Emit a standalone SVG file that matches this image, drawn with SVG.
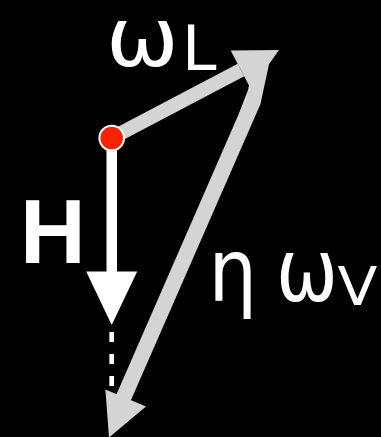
<svg xmlns="http://www.w3.org/2000/svg" width="381" height="437" viewBox="0 0 381 437">
  <style>
    .lbl { fill: #ffffff; font-family: "DejaVu Sans", "Open Sans", sans-serif; }
    .gray { fill: #d4d4d4; }
  </style>
  <rect x="0" y="0" width="381" height="437" fill="#000000"/>
  <g id="connectors">
    <g id="omegaL-arrow">
      <line x1="111.7" y1="138" x2="241" y2="70" stroke="#d4d4d4" stroke-width="14"/>
      <polygon class="gray" points="279,50 230.7,50.4 251.1,89.4"/>
    </g>
    <g id="etaOmegaV-arrow">
      <polygon class="gray" points="252,62 269,62 268.5,66.7 264.5,85 260.5,104 131,400 114,400 238.3,115 248,90 250,80"/>
      <polygon class="gray" points="109,437.5 105.4,389.4 146,406.4"/>
    </g>
    <g id="H-arrow">
      <rect x="106.5" y="138" width="10.5" height="136" fill="#ffffff"/>
      <polygon points="86.2,271.5 137.2,271.5 111.7,325" fill="#ffffff"/>
      <line x1="111.7" y1="332" x2="111.7" y2="386" stroke="#ffffff" stroke-width="4.7" stroke-dasharray="10 12"/>
    </g>
  </g>
  <g id="origin">
    <circle cx="111.7" cy="138" r="12.3" fill="#ff2200" stroke="#ffffff" stroke-width="2"/>
  </g>
  <g id="label-omegaL">
    <text class="lbl" transform="translate(106,66) scale(1.06,1)" x="0" y="0" font-size="82">ω</text>
    <text class="lbl" x="182" y="70" font-size="62">L</text>
  </g>
  <g id="label-H">
    <text x="20" y="263.3" font-size="91" font-weight="bold" fill="#ffffff" font-family="'Liberation Sans', Arial, sans-serif">H</text>
  </g>
  <g id="label-etaOmegaV">
    <text class="lbl" transform="translate(208.5,300.5) scale(0.87,1)" x="0" y="0" font-size="88">η</text>
    <text class="lbl" transform="translate(276,300.5) scale(0.85,1)" x="0" y="0" font-size="87">ω</text>
    <text class="lbl" transform="translate(337.5,305) scale(1.1,1)" x="0" y="0" font-size="53">V</text>
  </g>
</svg>
